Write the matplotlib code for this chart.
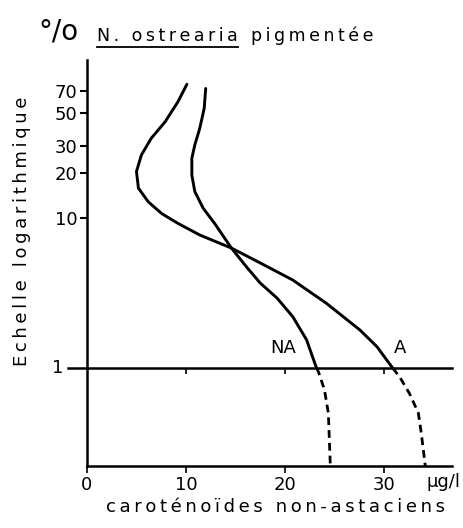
import matplotlib.pyplot as plt
from matplotlib.lines import Line2D

# courbe NA : caroténoïdes non-astaciens, partie au-dessus de 1 % (échelle log)
na_x = [12.0, 11.85, 11.4, 10.9, 10.6, 10.6, 10.9, 11.75, 12.9, 14.6, 16.1, 17.5, 19.2, 20.8, 22.2, 23.2]
na_y = [73, 53.9, 39.6, 30.7, 25.0, 19.3, 15.0, 11.6, 9.2, 6.3, 4.74, 3.69, 2.93, 2.2, 1.54, 1.0]
# prolongement sous 1 % (échelle linéaire 0-1), en tirets
na_bas_x = [23.2, 23.4, 24.0, 24.4, 24.5, 24.6]
na_bas_y = [1.0, 0.96, 0.78, 0.54, 0.27, 0.0]

# courbe A
a_x = [10.1, 9.2, 7.9, 6.5, 5.5, 5.0, 5.2, 6.2, 7.55, 9.2, 11.4, 14.6, 17.3, 20.8, 24.2, 27.6, 29.3, 30.9]
a_y = [77.9, 59.6, 43.8, 34.0, 26.3, 20.4, 15.8, 12.8, 10.7, 9.2, 7.7, 6.3, 5.1, 3.86, 2.7, 1.79, 1.39, 1.0]
a_bas_x = [30.9, 31.6, 32.6, 33.5, 33.8, 34.2]
a_bas_y = [1.0, 0.91, 0.74, 0.54, 0.33, 0.0]

y_ticks = [10, 20, 30, 50, 70]
x_ticks = [0, 10, 20, 30]

plt.rcParams['font.family'] = 'DejaVu Sans'
plt.rcParams['font.size'] = 13

fig = plt.figure(figsize=(4.64, 5.28), dpi=100)
W, H = 464, 528


def fx(px):
    return px / W


def fy(py):
    return 1 - py / H


def espace(s):
    # lettrage espacé : espace fine entre toutes les lettres
    return '\u2009'.join(s)


x0, x1 = 87, 452
xlim = (0, 36.9)

# partie basse, sous 1 % (dessinée d'abord pour ne pas masquer le trait du 1 %)
axb = fig.add_axes([fx(x0), fy(466), fx(x1 - x0), (466 - 368) / H])
axb.patch.set_visible(False)
axb.set_ylim(0, 1)
axb.set_xlim(*xlim)
axb.plot(na_bas_x, na_bas_y, color='black', lw=2.0, dashes=(2.8, 1.8))
axb.plot(a_bas_x, a_bas_y, color='black', lw=2.0, dashes=(2.8, 1.8))
for s in ['top', 'right']:
    axb.spines[s].set_visible(False)
axb.spines['left'].set_linewidth(1.8)
axb.spines['bottom'].set_linewidth(1.8)
axb.set_yticks([])
axb.set_xticks(x_ticks)
axb.set_xticklabels([str(t) for t in x_ticks])
axb.tick_params(axis='x', direction='out', length=5, width=1.2, pad=2)
axb.text(36.0, -0.075, 'µg/l', ha='center', va='top', clip_on=False)

# partie haute, logarithmique
ax = fig.add_axes([fx(x0), fy(368), fx(x1 - x0), (368 - 60) / H])
ax.patch.set_visible(False)
ax.set_yscale('log')
ax.set_ylim(1, 113)
ax.set_xlim(*xlim)
ax.plot(na_x, na_y, color='black', lw=2.1, solid_capstyle='round', solid_joinstyle='round')
ax.plot(a_x, a_y, color='black', lw=2.1, solid_capstyle='round', solid_joinstyle='round')
for s in ['top', 'right']:
    ax.spines[s].set_visible(False)
ax.spines['left'].set_linewidth(1.8)
ax.spines['bottom'].set_linewidth(1.8)
ax.set_yticks(y_ticks)
ax.set_yticklabels([str(t) for t in y_ticks])
ax.yaxis.set_minor_locator(plt.NullLocator())
ax.tick_params(axis='y', direction='out', length=5, width=1.5, pad=2)
ax.set_xticks([10, 20, 30])
ax.tick_params(axis='x', direction='out', length=4, width=1.2, labelbottom=False)
# trait du 1 % prolongé vers la gauche
ax.plot([-1.9, 0], [1, 1], color='black', lw=1.8, clip_on=False)
ax.text(-2.4, 1, '1', ha='right', va='center')
ax.text(19.8, 1.18, 'NA', ha='center', va='bottom')
ax.text(31.6, 1.18, 'A', ha='center', va='bottom')

fig.text(fx(22), fy(231), espace('Echelle logarithmique'), rotation=90,
         ha='center', va='center')
fig.text(fx(276), fy(507), espace('caroténoïdes non-astaciens'),
         ha='center', va='center')

# titre
fig.text(fx(38), fy(40), '°/o', fontsize=20, ha='left', va='baseline')
t1 = fig.text(fx(97), fy(41), espace('N. ostrearia'), ha='left', va='baseline',
              fontsize=12.5)
fig.text(fx(251), fy(41), espace('pigmentée'), ha='left', va='baseline',
         fontsize=12.5)
fig.canvas.draw()
bb = t1.get_window_extent().transformed(fig.transFigure.inverted())
fig.add_artist(Line2D([bb.x0, bb.x1], [fy(47), fy(47)], color='black', lw=1.3))

fig.savefig('out.png', dpi=100)
